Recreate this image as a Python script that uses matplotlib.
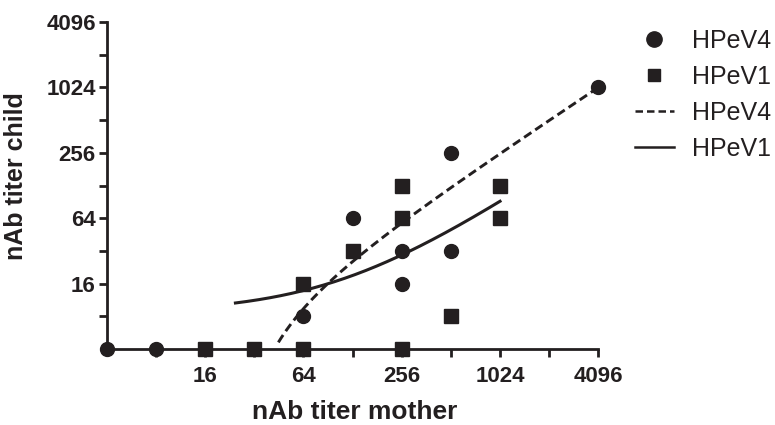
import numpy as np
import matplotlib.pyplot as plt
from matplotlib.lines import Line2D
from matplotlib.ticker import FixedLocator, NullFormatter

# data (titers, log2 scale)
hpev4_mother = [4, 8, 64, 128, 256, 256, 512, 512, 4096]
hpev4_child = [4, 4, 8, 64, 32, 16, 256, 32, 1024]
hpev1_mother = [16, 32, 64, 64, 128, 256, 256, 256, 512, 1024, 1024]
hpev1_child = [4, 4, 4, 16, 32, 128, 64, 4, 8, 128, 64]

# linear fits (y = a*x + b), drawn over their x range
fit4_slope, fit4_icpt, fit4_range = 0.2516, -6.7, (44.9, 4096)
fit1_slope, fit1_icpt, fit1_range = 0.0811, 8.61, (24.5, 1024)

x_major = [16, 64, 256, 1024, 4096]
x_minor = [8, 32, 128, 512, 2048]
y_major = [16, 64, 256, 1024, 4096]
y_minor = [8, 32, 128, 512, 2048]

col = '#231f20'
dash = (0, (3.0, 1.6))
plt.rcParams['font.family'] = ['Liberation Sans', 'DejaVu Sans']

fig = plt.figure(figsize=(7.75, 4.25), dpi=100)
ax = fig.add_axes([0.138, 0.179, 0.634, 0.769])

ax.plot(hpev4_mother, hpev4_child, 'o', color=col, ms=10, clip_on=False, zorder=5)
ax.plot(hpev1_mother, hpev1_child, 's', color=col, ms=9.5, clip_on=False, zorder=5)

xf = np.geomspace(*fit4_range, 200)
ax.plot(xf, fit4_slope * xf + fit4_icpt, color=col, lw=2.1, ls=dash)
xf = np.geomspace(*fit1_range, 200)
ax.plot(xf, fit1_slope * xf + fit1_icpt, color=col, lw=2.2)

ax.set_xscale('log', base=2)
ax.set_yscale('log', base=2)
ax.set_xlim(4, 4096)
ax.set_ylim(4, 4096)

ax.xaxis.set_major_locator(FixedLocator(x_major))
ax.xaxis.set_minor_locator(FixedLocator(x_minor))
ax.yaxis.set_major_locator(FixedLocator(y_major))
ax.yaxis.set_minor_locator(FixedLocator(y_minor))
ax.set_xticklabels([str(t) for t in x_major])
ax.set_yticklabels([str(t) for t in y_major])
ax.xaxis.set_minor_formatter(NullFormatter())
ax.yaxis.set_minor_formatter(NullFormatter())

for s in ['top', 'right']:
    ax.spines[s].set_visible(False)
for s in ['left', 'bottom']:
    ax.spines[s].set_linewidth(2)
    ax.spines[s].set_color(col)
ax.tick_params(which='both', direction='out', length=6, width=2, color=col,
               labelsize=16, labelcolor=col)
ax.tick_params(axis='x', pad=6)
ax.tick_params(axis='y', pad=2)
for lab in ax.get_xticklabels() + ax.get_yticklabels():
    lab.set_fontweight('bold')

ax.set_xlabel('nAb titer mother', fontsize=19, fontweight='bold', color=col)
ax.set_ylabel('nAb titer child', fontsize=18, fontweight='bold', color=col)
ax.xaxis.set_label_coords(0.505, -0.155)
ax.yaxis.set_label_coords(-0.16, 0.529)

handles = [
    Line2D([], [], marker='o', ls='none', color=col, ms=11),
    Line2D([], [], marker='s', ls='none', color=col, ms=8.5),
    Line2D([], [], color=col, lw=1.8, ls=dash),
    Line2D([], [], color=col, lw=1.8),
]
labels = ['HPeV4', 'HPeV1', 'HPeV4', 'HPeV1']
fig.legend(handles, labels, loc='upper left', bbox_to_anchor=(0.79, 0.985),
           frameon=False, fontsize=18, handlelength=1.56, labelspacing=0.48,
           handletextpad=0.72, labelcolor=col)

fig.savefig('out.png', dpi=100)
